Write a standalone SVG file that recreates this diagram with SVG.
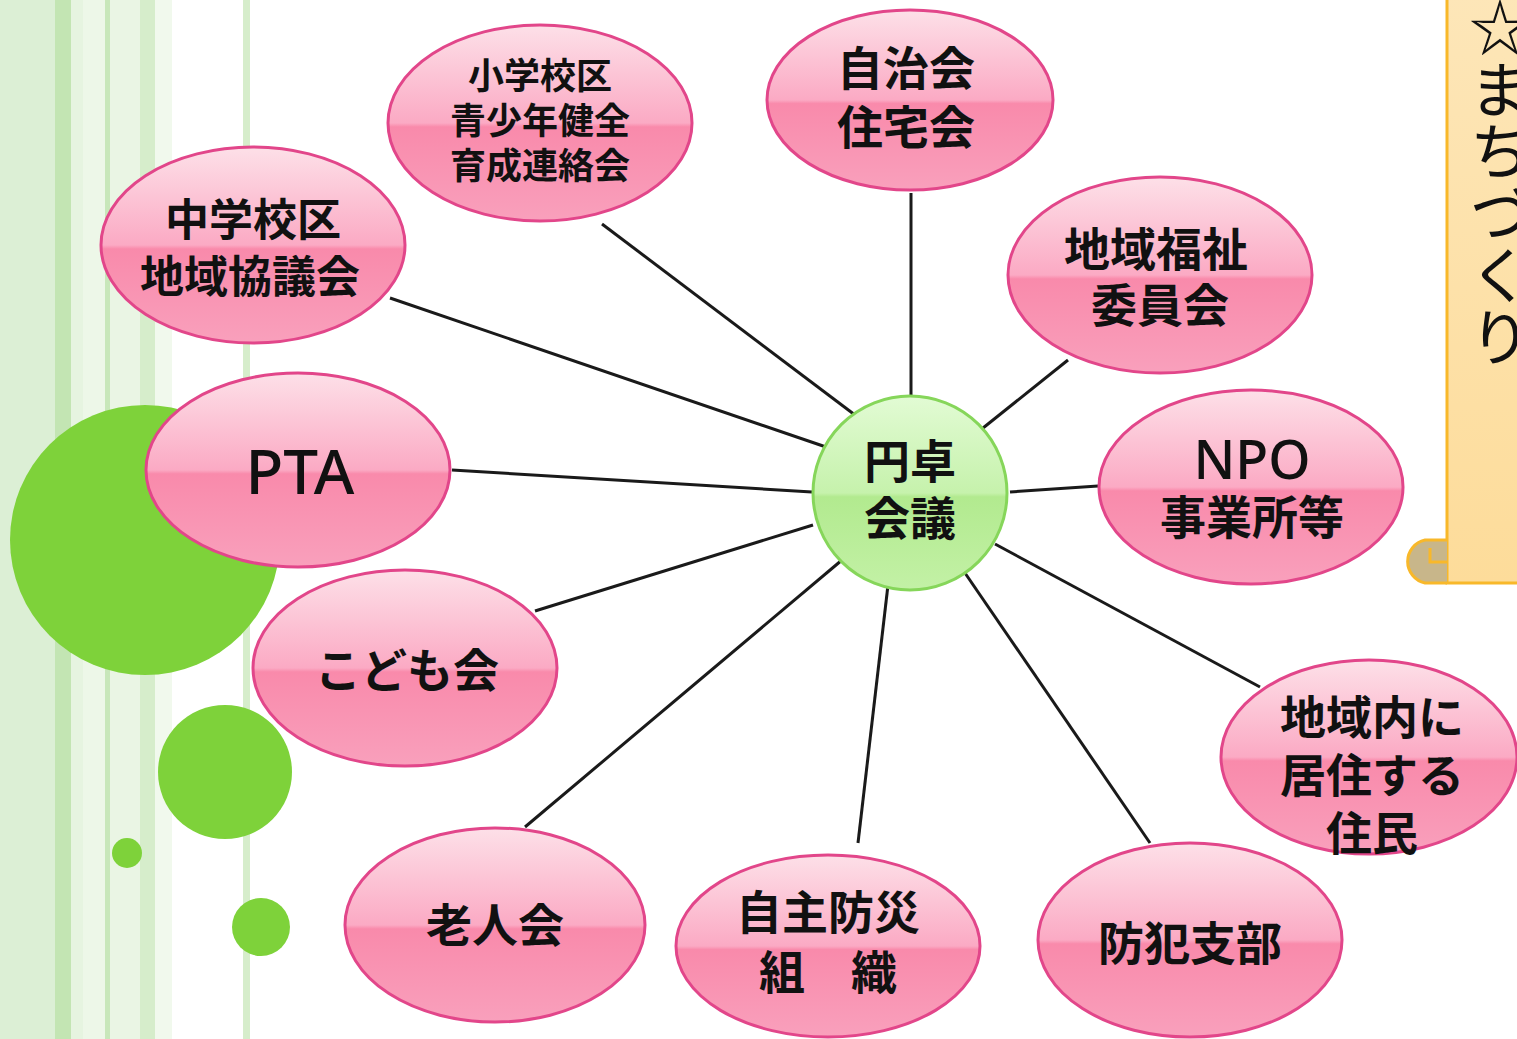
<svg xmlns="http://www.w3.org/2000/svg" width="1517" height="1039" viewBox="0 0 1517 1039">
<style>
.nd{fill:url(#pk);stroke:#e2468a;stroke-width:3}
.tx{font-family:"Noto Sans CJK JP","Noto Sans",sans-serif;font-weight:700;fill:#111;text-anchor:middle}
.cn line{stroke:#1a1a1a;stroke-width:3}
.gd{fill:#7ed23a}
</style>
<defs>
<linearGradient id="pk" x1="0" y1="0" x2="0" y2="1">
<stop offset="0" stop-color="#fde0e8"/>
<stop offset="0.5" stop-color="#fbaac4"/>
<stop offset="0.52" stop-color="#f98aab"/>
<stop offset="1" stop-color="#f9a0bc"/>
</linearGradient>
<linearGradient id="gr" x1="0" y1="0" x2="0" y2="1">
<stop offset="0" stop-color="#e2fbd4"/>
<stop offset="0.5" stop-color="#c6f2ac"/>
<stop offset="0.52" stop-color="#b2ea8f"/>
<stop offset="1" stop-color="#c3f1a6"/>
</linearGradient>
<linearGradient id="sc" x1="0" y1="0" x2="0" y2="1">
<stop offset="0" stop-color="#fde6b8"/>
<stop offset="1" stop-color="#fddc9a"/>
</linearGradient>
</defs>
<rect width="1517" height="1039" fill="#ffffff"/>
<g id="background">
<rect x="0" y="0" width="55" height="1039" fill="#dcefd5"/>
<rect x="55" y="0" width="16" height="1039" fill="#c3e5b3"/>
<rect x="71" y="0" width="12" height="1039" fill="#e6f4e0"/>
<rect x="83" y="0" width="22" height="1039" fill="#edf7e8"/>
<rect x="105" y="0" width="5" height="1039" fill="#c8e7ba"/>
<rect x="110" y="0" width="30" height="1039" fill="#eaf5e4"/>
<rect x="140" y="0" width="15" height="1039" fill="#d6edcb"/>
<rect x="155" y="0" width="17" height="1039" fill="#f1f9ed"/>
<rect x="243" y="0" width="7" height="1039" fill="#d6edcb"/>
<circle class="gd" cx="145" cy="540" r="135"/>
<circle class="gd" cx="225" cy="772" r="67"/>
<circle class="gd" cx="127" cy="853" r="15"/>
<circle class="gd" cx="261" cy="927" r="29"/>
</g>
<g id="scroll">
<rect x="1447" y="-5" width="80" height="588" fill="url(#sc)" stroke="#f8b82a" stroke-width="3"/>
<path d="M1447 540 L1425 540 A22 22 0 0 0 1425 583 L1447 583" fill="#c8b68a" stroke="#f8b82a" stroke-width="3"/>
<path d="M1447 562 L1430 562 L1430 548" fill="none" stroke="#f8b82a" stroke-width="3"/>
<text x="1500" y="-4" style="writing-mode:vertical-rl;font-family:'Noto Sans CJK JP',sans-serif;font-size:62px;fill:#111">☆まちづくり</text>
</g>
<g class="cn" id="connectors">
<line x1="390" y1="298" x2="826" y2="447"/>
<line x1="602" y1="224" x2="855" y2="415"/>
<line x1="911" y1="193" x2="911" y2="403"/>
<line x1="1068" y1="360" x2="983" y2="428"/>
<line x1="1098" y1="486" x2="1010" y2="492"/>
<line x1="1260" y1="687" x2="995" y2="544"/>
<line x1="1150" y1="843" x2="965" y2="573"/>
<line x1="858" y1="843" x2="888" y2="585"/>
<line x1="525" y1="827" x2="842" y2="560"/>
<line x1="535" y1="611" x2="813" y2="525"/>
<line x1="452" y1="470" x2="812" y2="492"/>
</g>
<g id="n-chugaku"><ellipse class="nd" cx="253" cy="245" rx="152" ry="98"/>
<text class="tx" x="253" y="236" font-size="44">中学校区</text><text class="tx" x="250" y="293" font-size="44">地域協議会</text></g>
<g id="n-shogaku"><ellipse class="nd" cx="540" cy="123" rx="152" ry="98"/>
<text class="tx" x="540" y="89" font-size="36">小学校区</text><text class="tx" x="540" y="134" font-size="36">青少年健全</text><text class="tx" x="540" y="179" font-size="36">育成連絡会</text></g>
<g id="n-jichikai"><ellipse class="nd" cx="910" cy="100" rx="143" ry="90"/>
<text class="tx" x="906" y="85" font-size="46">自治会</text><text class="tx" x="906" y="144" font-size="46">住宅会</text></g>
<g id="n-fukushi"><ellipse class="nd" cx="1160" cy="275" rx="152" ry="98"/>
<text class="tx" x="1156" y="266" font-size="46">地域福祉</text><text class="tx" x="1160" y="322" font-size="46">委員会</text></g>
<g id="n-npo"><ellipse class="nd" cx="1251" cy="487" rx="152" ry="97"/>
<text class="tx" x="1252" y="479" font-size="54" style="font-family:'Noto Sans',sans-serif;font-weight:500">NPO</text><text class="tx" x="1252" y="534" font-size="46">事業所等</text></g>
<g id="n-jumin"><ellipse class="nd" cx="1369" cy="757" rx="148" ry="97"/>
<text class="tx" x="1372" y="734" font-size="46">地域内に</text><text class="tx" x="1372" y="792" font-size="46">居住する</text><text class="tx" x="1372" y="850" font-size="46">住民</text></g>
<g id="n-bohan"><ellipse class="nd" cx="1190" cy="940" rx="152" ry="97"/>
<text class="tx" x="1190" y="960" font-size="46">防犯支部</text></g>
<g id="n-bosai"><ellipse class="nd" cx="828" cy="946" rx="152" ry="91"/>
<text class="tx" x="828" y="929" font-size="46">自主防災</text><text class="tx" x="828" y="989" font-size="46" xml:space="preserve">組　織</text></g>
<g id="n-rojin"><ellipse class="nd" cx="495" cy="925" rx="150" ry="97"/>
<text class="tx" x="495" y="942" font-size="46">老人会</text></g>
<g id="n-kodomo"><ellipse class="nd" cx="405" cy="668" rx="152" ry="98"/>
<text class="tx" x="407" y="687" font-size="46">こども会</text></g>
<g id="n-pta"><ellipse class="nd" cx="298" cy="470" rx="152" ry="97"/>
<text class="tx" x="300" y="494" font-size="62" style="font-family:'Noto Sans',sans-serif;font-weight:500">PTA</text></g>
<g id="n-entaku"><circle cx="910" cy="493" r="97" fill="url(#gr)" stroke="#86d65a" stroke-width="3"/>
<text class="tx" x="910" y="478" font-size="46">円卓</text><text class="tx" x="910" y="535" font-size="46">会議</text></g>
</svg>
